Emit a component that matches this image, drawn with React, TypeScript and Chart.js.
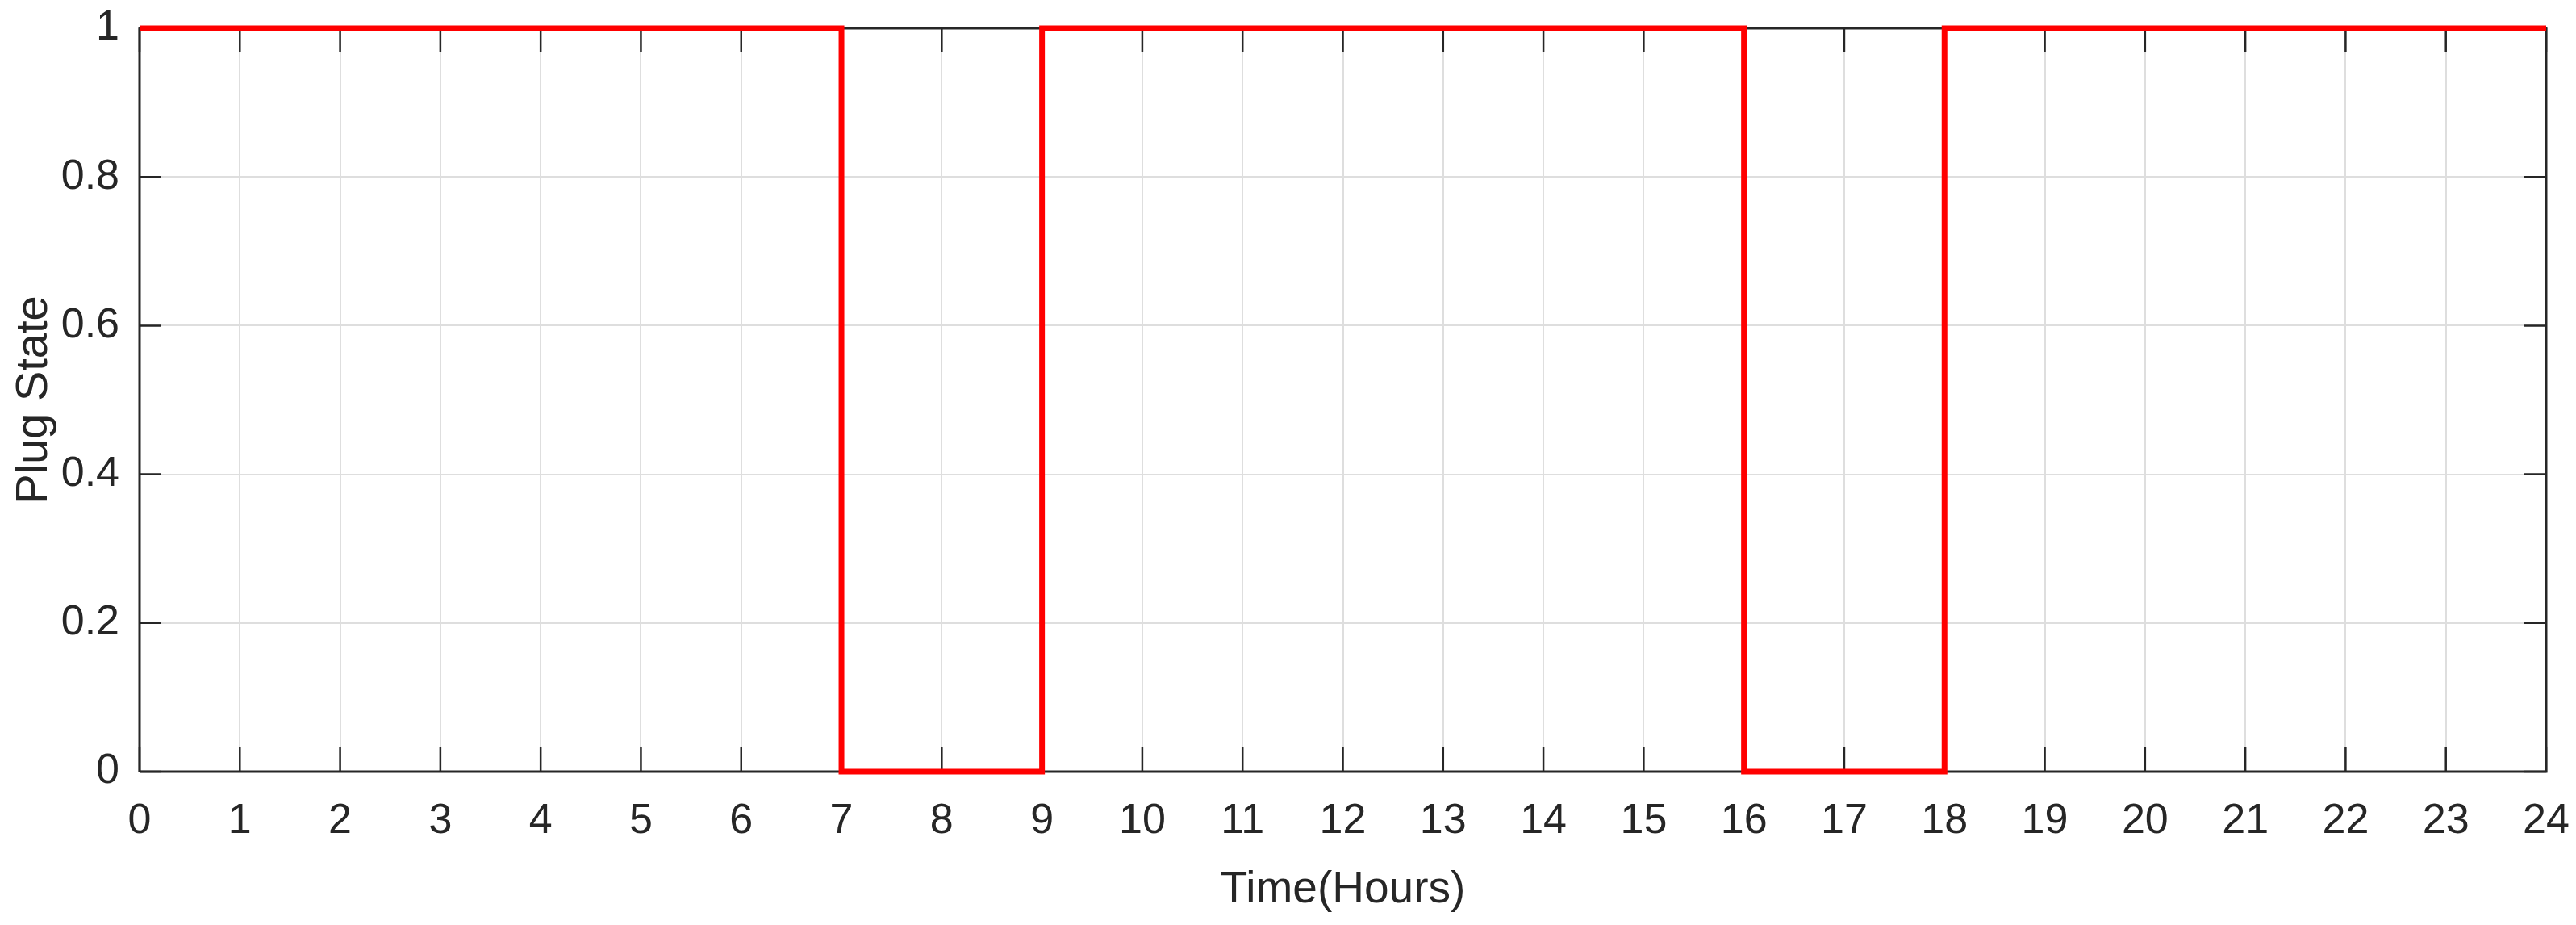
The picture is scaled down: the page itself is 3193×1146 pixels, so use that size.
import React, { useEffect, useRef } from "react";
import { Chart, registerables } from "chart.js";

Chart.register(...registerables);

// Data
const timeHours: number[] = [0, 7, 7, 9, 9, 16, 16, 18, 18, 24];
const plugState: number[] = [1, 1, 0, 0, 1, 1, 0, 0, 1, 1];
const xTitle = "Time(Hours)";
const yTitle = "Plug State";

const W = 3193;
const H = 1146;
const FONT = "'Liberation Sans', Arial, Helvetica, sans-serif";
const AXIS = "#262626";

const boxPlugin = {
  id: "matlabBox",
  beforeDatasetsDraw(chart: any) {
    const { ctx, chartArea, scales } = chart;
    const { left, right, top, bottom } = chartArea;
    const x = scales.x;
    const y = scales.y;
    ctx.save();
    ctx.strokeStyle = AXIS;
    ctx.lineWidth = 3;
    ctx.beginPath();
    ctx.moveTo(left, bottom);
    ctx.lineTo(left, top);
    ctx.lineTo(right, top);
    ctx.lineTo(right, bottom);
    ctx.lineTo(left, bottom);
    ctx.stroke();
    ctx.lineWidth = 2.5;
    ctx.beginPath();
    x.ticks.forEach((t: any) => {
      const px = x.getPixelForValue(t.value);
      ctx.moveTo(px, bottom);
      ctx.lineTo(px, bottom - 30);
      ctx.moveTo(px, top);
      ctx.lineTo(px, top + 30);
    });
    y.ticks.forEach((t: any) => {
      const py = y.getPixelForValue(t.value);
      ctx.moveTo(left, py);
      ctx.lineTo(left + 27, py);
      ctx.moveTo(right, py);
      ctx.lineTo(right - 27, py);
    });
    ctx.stroke();
    ctx.restore();
  },
};

export default function App() {
  const ref = useRef<HTMLCanvasElement | null>(null);

  useEffect(() => {
    document.body.style.margin = "0";
    const canvas = ref.current;
    if (!canvas) return;
    const chart = new Chart(canvas, {
      type: "line",
      data: {
        datasets: [
          {
            data: timeHours.map((t, i) => ({ x: t, y: plugState[i] })),
            borderColor: "#ff0000",
            borderWidth: 7,
            pointRadius: 0,
            tension: 0,
            fill: false,
            clip: false as any,
          },
        ],
      },
      options: {
        responsive: false,
        animation: false,
        devicePixelRatio: 1,
        layout: { padding: { top: 35, right: 37, left: 0, bottom: 0 } },
        plugins: {
          legend: { display: false },
          tooltip: { enabled: false },
        },
        scales: {
          x: {
            type: "linear",
            min: 0,
            max: 24,
            afterFit: (s: any) => {
              s.height = 190;
              s.paddingLeft = 0;
              s.paddingRight = 0;
            },
            ticks: {
              stepSize: 1,
              color: AXIS,
              font: { family: FONT, size: 52 },
              padding: 30,
              maxRotation: 0,
              autoSkip: false,
            },
            grid: { color: "#dedede", lineWidth: 2, drawTicks: false },
            border: { display: false },
            title: {
              display: true,
              text: xTitle,
              color: AXIS,
              font: { family: FONT, size: 55 },
              padding: { top: 0, bottom: 10 },
            },
          },
          y: {
            type: "linear",
            min: 0,
            max: 1,
            afterFit: (s: any) => {
              s.width = 173;
              s.paddingTop = 0;
              s.paddingBottom = 0;
            },
            ticks: {
              stepSize: 0.2,
              color: AXIS,
              font: { family: FONT, size: 52 },
              padding: 25,
              callback: (v: any) => String(Math.round(Number(v) * 10) / 10),
            },
            grid: { color: "#dedede", lineWidth: 2, drawTicks: false },
            border: { display: false },
            title: {
              display: true,
              text: yTitle,
              color: AXIS,
              font: { family: FONT, size: 56 },
              padding: { top: 9, bottom: 9 },
            },
          },
        },
      },
      plugins: [boxPlugin],
    });
    return () => chart.destroy();
  }, []);

  return (
    <div style={{ position: "absolute", left: 0, top: 0, width: W, height: H, background: "#fff" }}>
      <canvas ref={ref} width={W} height={H} style={{ width: W, height: H, display: "block" }} />
    </div>
  );
}
